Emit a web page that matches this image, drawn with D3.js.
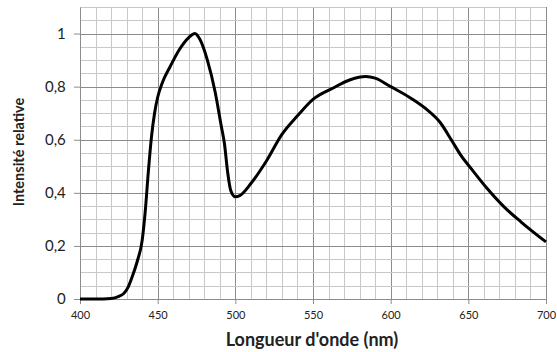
<!DOCTYPE html>
<html>
<head>
<meta charset="UTF-8">
<title>Spectre</title>
<script src="https://d3js.org/d3.v7.min.js"></script>
<style>
    body {margin: 0; background: white;}
    text {font-family: Lato, "Open Sans", sans-serif; fill: #222;}
    .grid-minor {stroke: #c8c8c8; stroke-width: 1;}
    .grid-major {stroke: #8c8c8c; stroke-width: 1;}
    .axis path, .axis line {stroke: #8c8c8c;}
</style>
</head>
<body>
<div id="chart"></div>
<script>
    // wavelength (nm) and relative intensity
    var wavelength = [400, 410, 420, 425, 428, 431, 434, 437, 440, 442, 444, 446, 448, 450, 453, 458, 464, 470, 474, 477, 482, 487, 491, 493, 495, 497, 500, 503, 510, 520, 530, 540, 550, 563, 574, 584, 590, 600, 612, 623, 632, 639, 645, 652, 662, 673, 684, 700];
    var intensity  = [0, 0, 0.002, 0.01, 0.02, 0.045, 0.09, 0.145, 0.22, 0.33, 0.48, 0.61, 0.70, 0.76, 0.815, 0.875, 0.94, 0.985, 1.0, 0.98, 0.9, 0.78, 0.65, 0.585, 0.48, 0.41, 0.385, 0.39, 0.435, 0.52, 0.62, 0.69, 0.752, 0.795, 0.826, 0.838, 0.832, 0.8, 0.76, 0.715, 0.664, 0.6, 0.543, 0.49, 0.417, 0.347, 0.29, 0.215];
    var xTicks = [400, 450, 500, 550, 600, 650, 700];
    var yTicks = [0, 0.2, 0.4, 0.6, 0.8, 1];

    var W = 557, H = 352;
    var margin = {top: 7, right: 11, bottom: 53, left: 80};
    var width = W - margin.left - margin.right,
        height = H - margin.top - margin.bottom;

    var svg = d3.select("#chart").append("svg")
        .attr("width", W)
        .attr("height", H);
    var g = svg.append("g")
        .attr("transform", "translate(" + margin.left + "," + margin.top + ")");

    var x = d3.scaleLinear().domain([400, 700]).range([0, width]);
    var y = d3.scaleLinear().domain([0, 1.1]).range([height, 0]);

    // grid: every 10 nm and every 0.05, darker on the labelled values
    g.selectAll(".vgrid").data(d3.range(400, 701, 10)).enter().append("line")
        .attr("class", function(d) { return d % 50 == 0 ? "grid-major" : "grid-minor"; })
        .attr("x1", function(d) { return Math.round(x(d)) + 0.5; })
        .attr("x2", function(d) { return Math.round(x(d)) + 0.5; })
        .attr("y1", 0).attr("y2", height);

    g.selectAll(".hgrid").data(d3.range(0, 23)).enter().append("line")
        .attr("class", function(d) { return d % 4 == 0 ? "grid-major" : "grid-minor"; })
        .attr("x1", 0).attr("x2", width)
        .attr("y1", function(d) { return Math.round(y(d * 0.05)) + 0.5; })
        .attr("y2", function(d) { return Math.round(y(d * 0.05)) + 0.5; });

    // axes
    var xAxis = g.append("g").attr("class", "axis")
        .attr("transform", "translate(0," + height + ")")
        .call(d3.axisBottom(x).tickValues(xTicks).tickSize(5).tickSizeOuter(0));
    xAxis.selectAll("text").style("font-size", "11px").attr("dy", "1.1em");

    var yAxis = g.append("g").attr("class", "axis")
        .call(d3.axisLeft(y).tickValues(yTicks).tickSize(6).tickSizeOuter(0)
            .tickFormat(function(d) { return String(d).replace(".", ","); }));
    yAxis.selectAll("text").style("font-size", "15px").attr("dx", "-0.35em");
    g.selectAll(".axis .domain").attr("stroke", "#8c8c8c");

    // curve
    var data = wavelength.map(function(d, i) { return [d, intensity[i]]; });
    var line = d3.line()
        .x(function(d) { return x(d[0]); })
        .y(function(d) { return y(d[1]); })
        .curve(d3.curveMonotoneX);
    g.append("path").datum(data)
        .attr("d", line)
        .attr("fill", "none")
        .attr("stroke", "black")
        .attr("stroke-width", 3)
        .attr("stroke-linejoin", "round");

    // titles
    svg.append("text")
        .attr("x", 312).attr("y", 346)
        .attr("text-anchor", "middle")
        .style("font-size", "18px").style("font-weight", "bold")
        .text("Longueur d'onde (nm)");
    svg.append("text")
        .attr("transform", "translate(24,152) rotate(-90)")
        .attr("text-anchor", "middle")
        .style("font-size", "14.5px").style("font-weight", "bold")
        .text("Intensité relative");
</script>
</body>
</html>
